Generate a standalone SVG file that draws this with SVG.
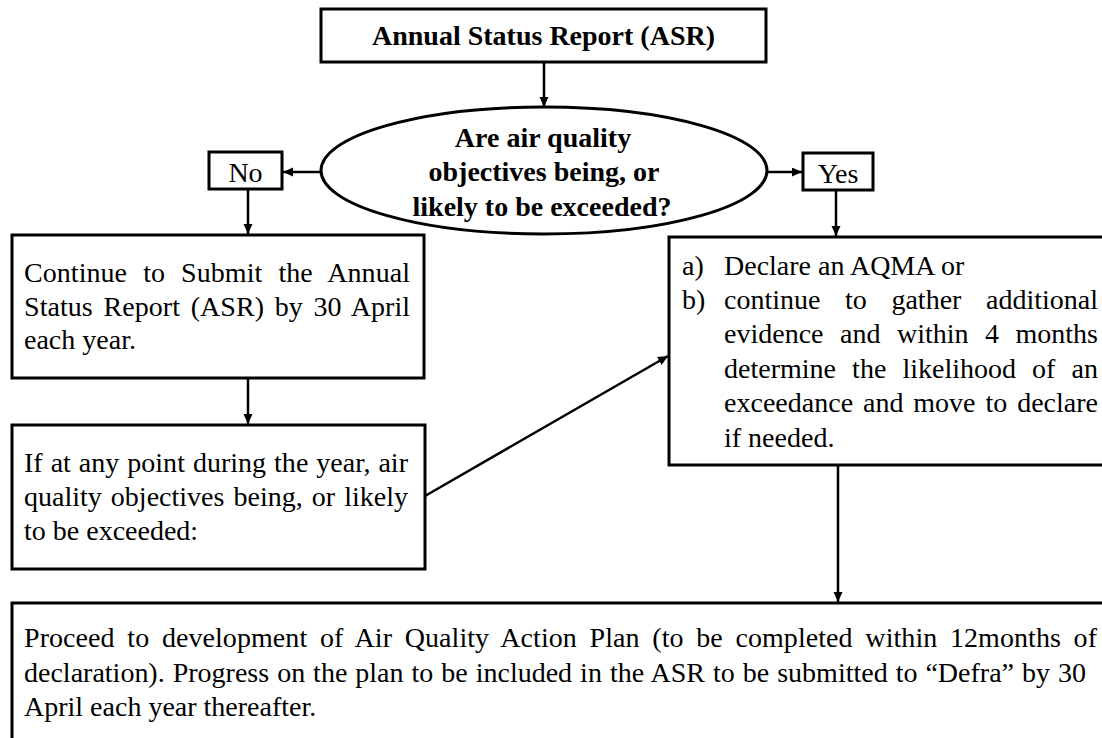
<svg xmlns="http://www.w3.org/2000/svg" width="1102" height="738" viewBox="0 0 1102 738" font-family="'Liberation Serif', 'Times New Roman', 'DejaVu Serif', serif">
<style>
.box{fill:#fff;stroke:#000;stroke-width:3}
.conn{stroke:#000;stroke-width:2.5;fill:none}
text{font-family:'Liberation Serif','Times New Roman','DejaVu Serif',serif;font-size:28px;fill:#000}
.b{font-weight:bold}
.m{text-anchor:middle}
</style>
<defs>
<marker id="ah" markerUnits="userSpaceOnUse" markerWidth="11" markerHeight="10" refX="10" refY="4.5" orient="auto">
<path d="M0,0 L10,4.5 L0,9 z" fill="#000"/>
</marker>
</defs>
<rect width="1102" height="738" fill="#fff"/>
<g id="connectors">
<line class="conn" x1="544" y1="62" x2="544" y2="107" marker-end="url(#ah)"/>
<line class="conn" x1="321" y1="172" x2="283" y2="172" marker-end="url(#ah)"/>
<line class="conn" x1="767" y1="172" x2="802" y2="172" marker-end="url(#ah)"/>
<line class="conn" x1="248" y1="189" x2="248" y2="234" marker-end="url(#ah)"/>
<line class="conn" x1="836" y1="190" x2="836" y2="236" marker-end="url(#ah)"/>
<line class="conn" x1="248" y1="378" x2="248" y2="424" marker-end="url(#ah)"/>
<line class="conn" x1="425" y1="496" x2="668" y2="356" marker-end="url(#ah)"/>
<line class="conn" x1="838" y1="465" x2="838" y2="602" marker-end="url(#ah)"/>
</g>
<g id="node-asr">
<rect class="box" x="321" y="9" width="445" height="53"/>
<text class="b m" x="543.5" y="45">Annual Status Report (ASR)</text>
</g>
<g id="node-question">
<ellipse class="box" cx="544" cy="170.5" rx="223" ry="63.5"/>
<text class="b m" x="543" y="147">Are air quality</text>
<text class="b m" x="544" y="181">objectives being, or</text>
<text class="b m" x="542" y="216">likely to be exceeded?</text>
</g>
<g id="node-no">
<rect class="box" x="209" y="152" width="73" height="37"/>
<text class="m" x="245.5" y="182">No</text>
</g>
<g id="node-yes">
<rect class="box" x="803" y="153" width="70" height="37"/>
<text class="m" x="838" y="183">Yes</text>
</g>
<g id="node-continue">
<rect class="box" x="12" y="235" width="412" height="143"/>
<text x="24" y="282" word-spacing="9" textLength="386">Continue to Submit the Annual</text>
<text x="24" y="316" word-spacing="3.6" textLength="386">Status Report (ASR) by 30 April</text>
<text x="24" y="349">each year.</text>
</g>
<g id="node-if">
<rect class="box" x="12" y="425" width="413" height="144"/>
<text x="24" y="472" word-spacing="0.9" textLength="384">If at any point during the year, air</text>
<text x="24" y="506" word-spacing="2.1" textLength="384">quality objectives being, or likely</text>
<text x="24" y="540">to be exceeded:</text>
</g>
<g id="node-declare">
<rect class="box" x="669" y="237" width="460" height="228"/>
<text x="682" y="275">a)</text>
<text x="724" y="275">Declare an AQMA or</text>
<text x="682" y="309">b)</text>
<text x="724" y="309" word-spacing="17.6" textLength="374">continue to gather additional</text>
<text x="724" y="343" word-spacing="9.5" textLength="374">evidence and within 4 months</text>
<text x="724" y="378" word-spacing="9.1" textLength="374">determine the likelihood of an</text>
<text x="724" y="412" word-spacing="2.9" textLength="374">exceedance and move to declare</text>
<text x="724" y="447">if needed.</text>
</g>
<g id="node-plan">
<rect class="box" x="12" y="603" width="1110" height="160"/>
<text x="24" y="647" word-spacing="5.6" textLength="1073">Proceed to development of Air Quality Action Plan (to be completed within 12months of</text>
<text x="24" y="682" word-spacing="1" textLength="1062">declaration). Progress on the plan to be included in the ASR to be submitted to “Defra” by 30</text>
<text x="24" y="716">April each year thereafter.</text>
</g>
</svg>
